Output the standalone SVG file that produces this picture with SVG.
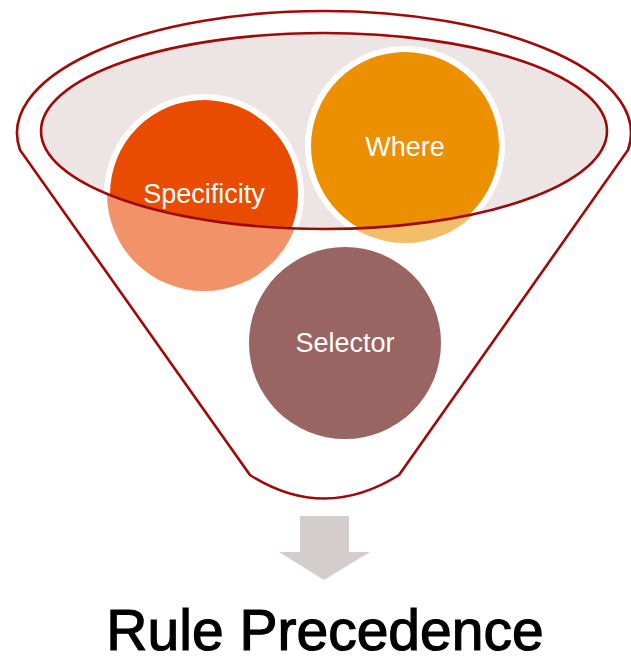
<svg xmlns="http://www.w3.org/2000/svg" width="631" height="657" viewBox="0 0 631 657">
  <style>
    .lbl { font-family: "Liberation Sans", Arial, sans-serif; font-size: 27px; fill: #FFFFFF; text-anchor: middle; }
    .title { font-family: "Liberation Sans", Arial, sans-serif; font-size: 57px; fill: #000000; stroke: #000000; stroke-width: 1.2; text-anchor: middle; }
    .rim { fill: none; stroke: #9E0A0A; stroke-width: 2.6; }
  </style>
  <defs>
    <clipPath id="innerClip">
      <ellipse cx="324" cy="131" rx="283" ry="98"/>
    </clipPath>
  </defs>
  <rect width="631" height="657" fill="#FFFFFF"/>
  <g id="funnel">
    <path class="rim" d="M20,150 A307,122 0 1 1 628,150 L399,475 Q324,522 250,475 Z" style="fill:#FFFFFF"/>
    <ellipse id="funnel-mouth" cx="324" cy="131" rx="283" ry="98" fill="#EDE5E4"/>
  </g>
  <g id="node-specificity">
    <circle cx="204" cy="194" r="97" fill="#F29268"/>
    <g clip-path="url(#innerClip)">
      <circle cx="204" cy="194" r="97" fill="#E94C00" stroke="#FFFFFF" stroke-width="6"/>
    </g>
    <text class="lbl" x="204" y="203">Specificity</text>
  </g>
  <g id="node-where">
    <circle cx="405" cy="146" r="97" fill="#F2BE6A"/>
    <g clip-path="url(#innerClip)">
      <circle cx="405" cy="146" r="97" fill="#EC9000" stroke="#FFFFFF" stroke-width="6"/>
    </g>
    <text class="lbl" x="405" y="156">Where</text>
  </g>
  <ellipse class="rim" cx="324" cy="131" rx="283" ry="98"/>
  <g id="node-selector">
    <circle cx="345" cy="343" r="96" fill="#996562"/>
    <text class="lbl" x="345" y="352">Selector</text>
  </g>
  <g id="connectors">
    <path d="M300,516 L349,516 L349,552 L370,552 L324,580 L279,552 L300,552 Z" fill="#D3CDCD"/>
  </g>
  <g id="node-title">
    <text class="title" x="325" y="650">Rule Precedence</text>
  </g>
</svg>
